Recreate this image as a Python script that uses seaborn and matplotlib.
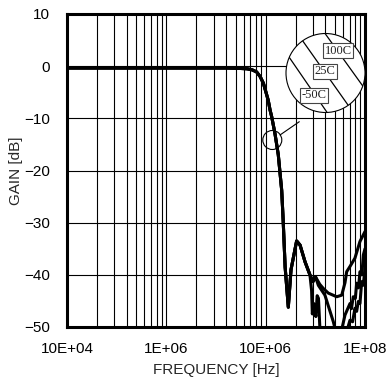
import numpy as np
import pandas as pd
import matplotlib
matplotlib.use("Agg")
import matplotlib.pyplot as plt
import seaborn as sns
from matplotlib.patches import Circle
from matplotlib.lines import Line2D
from matplotlib.transforms import IdentityTransform
from matplotlib.ticker import LogLocator, FixedLocator, NullLocator, NullFormatter

# ---- data ----
common_freq = [1e5, 1e6, 4e6, 5e6, 6.5e6, 7.3e6, 8.1e6, 8.8e6, 9.5e6, 1.0e7, 1.06e7,
               1.107e7, 1.15e7, 1.24e7, 1.34e7, 1.45e7, 1.5e7, 1.57e7, 1.69e7, 1.8e7,
               2.05e7, 2.22e7, 2.49e7, 2.79e7]
common_gain = [-0.35, -0.35, -0.35, -0.4, -0.5, -0.7, -1.1, -2.0, -3.3, -4.8, -6.5,
               -8.4, -9.7, -12.9, -17.0, -23.8, -29.5, -38.5, -46.2, -39.0,
               -33.5, -34.3, -37.5, -40.0]

tail_freq_100c = [3.0e7, 3.18e7, 3.5e7, 3.8e7, 4.27e7, 5.19e7, 5.83e7, 6.29e7, 6.54e7,
                  7.06e7, 7.92e7, 8.9e7, 1e8]
tail_gain_100c = [-41.3, -40.4, -41.8, -42.6, -43.5, -44.2, -43.9, -41.5, -39.4,
                  -38.4, -36.8, -33.6, -31.7]

tail_freq_25c = [2.9e7, 2.95e7, 3.05e7, 3.2e7, 3.3e7, 3.4e7, 3.55e7, 5.6e7, 6.29e7,
                 7.06e7, 7.3e7, 7.62e7, 8.0e7, 8.24e7, 8.6e7, 8.9e7, 9.3e7, 9.62e7, 1e8]
tail_gain_25c = [-43.0, -47.5, -45.5, -48.0, -44.0, -44.5, -52.0, -52.0, -47.7,
                 -45.5, -46.5, -44.2, -44.5, -41.6, -42.5, -39.4, -40.0, -36.2, -35.0]

tail_freq_m50c = [3.0e7, 3.18e7, 3.39e7, 3.95e7, 4.8e7, 5.1e7, 6.3e7, 7.06e7, 7.5e7,
                  7.92e7, 8.24e7, 8.56e7, 8.9e7, 9.26e7, 9.6e7, 1e8]
tail_gain_m50c = [-41.3, -40.4, -42.0, -43.9, -49.0, -51.0, -52.0, -48.7, -49.0,
                  -46.4, -47.0, -45.1, -45.5, -41.3, -42.0, -38.8]

temps = ["100C", "25C", "-50C"]
x_ticks = [1e5, 1e6, 1e7, 1e8]
x_tick_labels = ["10E+04", "1E+06", "10E+06", "1E+08"]
y_ticks = [-50, -40, -30, -20, -10, 0, 10]

frames = []
for t, tf, tg in zip(temps,
                     [tail_freq_100c, tail_freq_25c, tail_freq_m50c],
                     [tail_gain_100c, tail_gain_25c, tail_gain_m50c]):
    frames.append(pd.DataFrame({"freq": common_freq + tf,
                                "gain": common_gain + tg,
                                "temp": t}))
df = pd.concat(frames, ignore_index=True)

# ---- plot ----
sns.set_style("white")
plt.rcParams["font.family"] = ["Liberation Sans", "DejaVu Sans"]

W, H = 387, 385
fig = plt.figure(figsize=(W / 100, H / 100), dpi=100)
ax = fig.add_axes([67 / W, 1 - 327 / H, (365 - 67) / W, (327 - 14) / H])
ax.set_xscale("log")

sns.lineplot(data=df, x="freq", y="gain", hue="temp",
             palette={t: "black" for t in temps}, estimator=None, sort=False,
             linewidth=2.2, legend=False, ax=ax, zorder=3)

ax.set_xlim(1e5, 1e8)
ax.set_ylim(-50, 10)
ax.xaxis.set_major_locator(FixedLocator(x_ticks))
ax.set_xticklabels(x_tick_labels)
ax.xaxis.set_minor_locator(LogLocator(base=10, subs=range(2, 10), numticks=20))
ax.xaxis.set_minor_formatter(NullFormatter())
ax.set_yticks(y_ticks)
ax.yaxis.set_minor_locator(NullLocator())

ax.grid(which="both", axis="x", color="black", linewidth=0.8)
ax.grid(which="major", axis="y", color="black", linewidth=0.8)
ax.set_axisbelow(True)

for s in ax.spines.values():
    s.set_visible(True)
    s.set_color("black")
    s.set_linewidth(2.2)

ax.tick_params(axis="both", which="both", length=0, labelsize=11, colors="black")
ax.tick_params(axis="x", pad=11)
ax.tick_params(axis="y", pad=12)
ax.set_xlabel("FREQUENCY [Hz]", fontsize=11, labelpad=5)
ax.set_ylabel("GAIN [dB]", fontsize=11, labelpad=1)

# ---- annotation (pixel coordinates of the figure) ----
idt = IdentityTransform()
def P(x, y):
    return x, H - y

small = Circle(P(272.3, 140), 9.5, transform=idt, fill=False, edgecolor="black",
               linewidth=0.8, zorder=5)
fig.add_artist(small)
fig.add_artist(Line2D([280, 299.3], [H - 135, H - 121.7], transform=idt,
                      color="black", linewidth=0.8, zorder=5))

big = Circle(P(325.5, 73), 39.5, transform=idt, facecolor="white", edgecolor="black",
             linewidth=0.8, zorder=6)
fig.add_artist(big)
for (x0, y0, x1, y1) in [(324.7, 33, 363, 86.3), (303, 41.3, 351.3, 109.7),
                         (289.7, 58, 326.3, 111.3)]:
    dx, dy = x1 - x0, y1 - y0
    ln = Line2D([x0 - dx, x1 + dx], [H - (y0 - dy), H - (y1 + dy)], transform=idt,
                color="black", linewidth=0.9, zorder=7)
    ln.set_clip_path(big)
    fig.add_artist(ln)

for label, (cx, cy) in zip(temps, [(338, 50.5), (325, 71.5), (314, 95.5)]):
    fig.text(cx, H - cy, label, transform=idt, ha="center", va="center",
             family=["Liberation Serif", "DejaVu Serif"], fontsize=9, color="#222",
             zorder=8,
             bbox=dict(boxstyle="square,pad=0.12", facecolor="white",
                       edgecolor="#444", linewidth=0.8))

fig.savefig("out.png", dpi=100)
